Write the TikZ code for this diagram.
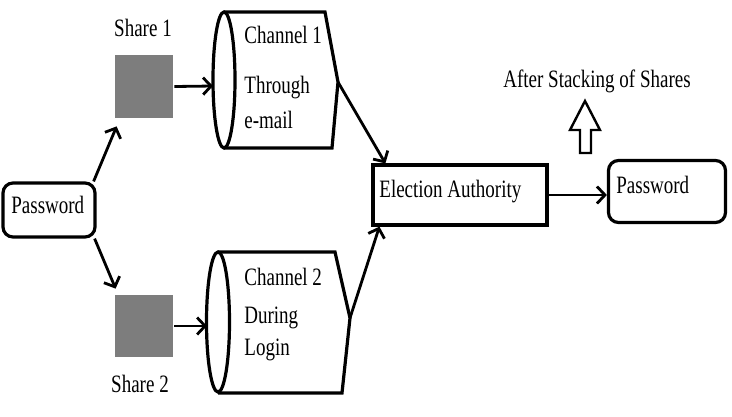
\documentclass[tikz,border=0pt]{standalone}
\usepackage{fontspec}
\setmainfont[FakeStretch=0.76]{Liberation Serif}
\usetikzlibrary{arrows.meta}
\definecolor{sharegray}{RGB}{125,125,125}
\begin{document}
\begin{tikzpicture}[x=1pt,y=-1pt,line width=2.8pt,
  box/.style={draw,line width=3.2pt,inner sep=0pt},
  rbox/.style={box,rounded corners=10pt},
  sharebox/.style={fill=sharegray,draw=none,inner sep=0pt,minimum width=58pt,minimum height=63pt},
  lbl/.style={anchor=base west,inner sep=0pt,font=\fontsize{25}{29}\selectfont},
  clbl/.style={lbl,anchor=base},
  arr/.style={-{Straight Barb[length=8pt,width=17pt]}},
  cyl/.style={line width=3.2pt,line join=miter}]
\useasboundingbox (0,0) rectangle (732,416);

% boxes
\node[rbox,minimum width=92pt,minimum height=54pt] (pw1) at (49,210) {};
\node[rbox,minimum width=117pt,minimum height=62pt] (pw2) at (667,191.5) {};
\node[box,minimum width=174pt,minimum height=60pt] (ea) at (460,195) {};
\node[sharebox] (s1) at (144,86.5) {};
\node[sharebox,minimum height=62pt] (s2) at (144,326) {};

% channel 1 cylinder
\draw[cyl] (224,12) -- (325,12) -- (338,82) -- (332,148) -- (224,148);
\draw[cyl] (224,80) ellipse [x radius=11, y radius=68];
\coordinate (c1in) at (213,86);
\coordinate (c1tip) at (338,82);

% channel 2 cylinder
\draw[cyl] (218,252) -- (335,252) -- (350,318) -- (342,393) -- (218,393);
\draw[cyl] (218,322) ellipse [x radius=11.5, y radius=70];
\coordinate (c2in) at (207,326);
\coordinate (c2tip) at (350,318);

% texts
\node[lbl] (tpw1) at (10,213) {Password};
\node[lbl] (tpw2) at (615,193) {Password};
\node[lbl] (tea) at (378,197) {Election Authority};
\node[clbl] (ts1) at (143,36) {Share 1};
\node[clbl] (ts2) at (140,392) {Share 2};
\node[lbl] (tc1a) at (243,43) {Channel 1};
\node[lbl] (tc1b) at (243,93) {Through};
\node[lbl] (tc1c) at (243,128) {e-mail};
\node[lbl] (tc2a) at (243,285) {Channel 2};
\node[lbl] (tc2b) at (243,323) {During};
\node[lbl] (tc2c) at (243,355) {Login};
\node[clbl] (tafter) at (597,87) {After Stacking of Shares};

% connectors
\draw[arr] ([xshift=-3pt]pw1.north east) -- ([shift={(3,7)}]s1.south west);
\draw[arr] ([xshift=-2pt]pw1.south east) -- ([shift={(2,-5)}]s2.north west);
\draw[arr] (s1.east) -- (c1in);
\draw[arr] (s2.east) -- (c2in);
\draw[arr] (c1tip) -- ([xshift=14pt]ea.north west);
\draw[arr] (c2tip) -- ([xshift=8pt]ea.south west);
\draw[arr] (ea.east) -- (ea.east -| pw2.west);

% hollow up arrow
\draw[line width=2.4pt,line join=miter,fill=white]
  (585,101) -- (600,130) -- (591,130) -- (591,153) -- (580,153) -- (580,130) -- (570,130) -- cycle;
\end{tikzpicture}
\end{document}
